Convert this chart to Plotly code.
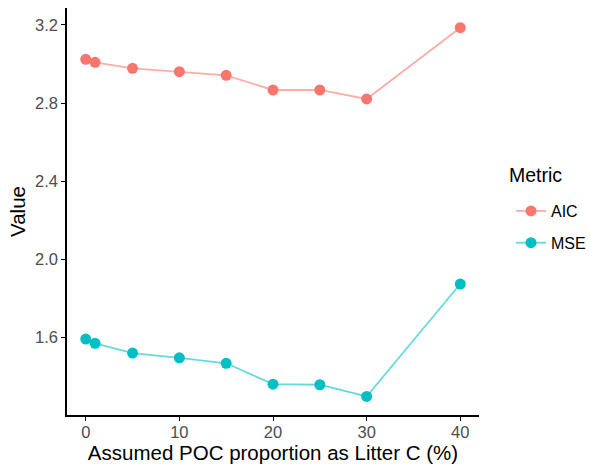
import plotly.graph_objects as go

x_vals = [0, 1, 5, 10, 15, 20, 25, 30, 40]
aic = [3.024, 3.009, 2.978, 2.961, 2.942, 2.867, 2.867, 2.821, 3.186]
mse = [1.591, 1.569, 1.519, 1.495, 1.467, 1.360, 1.357, 1.297, 1.873]
y_ticks = [1.6, 2.0, 2.4, 2.8, 3.2]
x_ticks = [0, 10, 20, 30, 40]

fig = go.Figure()
series = [("AIC", aic, "#F8766D", "rgba(248,118,109,0.6)"),
          ("MSE", mse, "#00BFC4", "rgba(0,191,196,0.6)")]
for name, vals, mcol, lcol in series:
    fig.add_trace(go.Scatter(
        x=x_vals, y=vals, name=name, mode="lines+markers",
        legendgroup=name,
        line=dict(color=lcol, width=1.8),
        marker=dict(color=mcol, size=11),
    ))

fig.add_annotation(
    text="Metric", xref="paper", yref="paper",
    x=(507 - 67) / 412, y=(415 - 175) / 407,
    xanchor="left", yanchor="middle", showarrow=False,
    font=dict(size=19.5, color="black"),
)

fig.update_layout(
    width=590, height=468,
    margin=dict(l=67, r=111, t=8, b=53, autoexpand=False),
    paper_bgcolor="white", plot_bgcolor="white",
    font=dict(family="Liberation Sans, Arial, sans-serif", color="black"),
    legend=dict(
        font=dict(size=16, color="black"),
        xref="container", yref="container",
        x=511 / 590, xanchor="left", y=1 - 194 / 468, yanchor="top",
        tracegroupgap=8,
        bgcolor="rgba(0,0,0,0)",
    ),
    xaxis=dict(
        range=[-2, 42], tickvals=x_ticks, showgrid=False, zeroline=False,
        showline=True, linecolor="black", linewidth=1.5,
        ticks="outside", ticklen=4, tickcolor="black", tickwidth=1,
        tickfont=dict(size=16.5, color="#4D4D4D"),
        ticklabelstandoff=-3,
        automargin=False,
        title=dict(text="Assumed POC proportion as Litter C (%)",
                   font=dict(size=20.5, color="black"), standoff=0),
    ),
    yaxis=dict(
        range=[1.202, 3.287], tickvals=y_ticks,
        ticktext=[f"{v:.1f}" for v in y_ticks],
        showgrid=False, zeroline=False,
        showline=True, linecolor="black", linewidth=1.5,
        ticks="outside", ticklen=4, tickcolor="black", tickwidth=1,
        tickfont=dict(size=16.5, color="#4D4D4D"),
        automargin=False,
        title=dict(text="Value", font=dict(size=20.5, color="black"), standoff=4),
    ),
)

fig.write_html("out.html", config={"displayModeBar": False},
               post_script="document.body.style.margin='0';")
